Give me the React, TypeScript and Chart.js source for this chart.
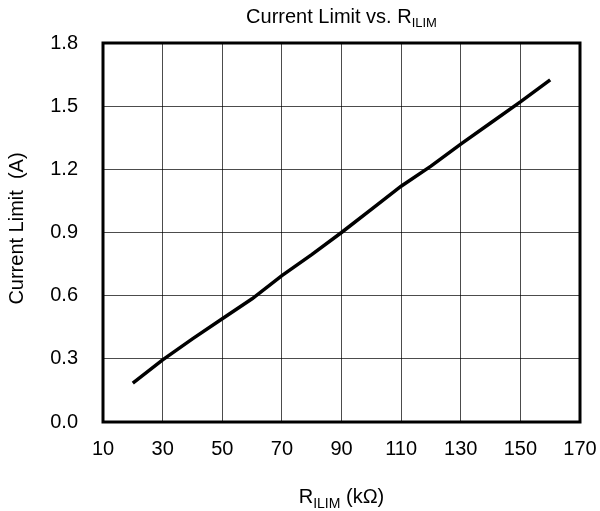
import React, { useEffect, useRef } from "react";
import { Chart, registerables } from "chart.js";

Chart.register(...registerables);

const resistanceK = [20, 30, 40, 50, 60, 70, 80, 90, 100, 110, 120, 130, 140, 150, 160];
const currentLimit = [0.185, 0.295, 0.395, 0.49, 0.585, 0.695, 0.795, 0.9, 1.01, 1.12, 1.215, 1.32, 1.42, 1.52, 1.625];
const xTicks = [10, 30, 50, 70, 90, 110, 130, 150, 170];
const yTicks = [0, 0.3, 0.6, 0.9, 1.2, 1.5, 1.8];

const FONT = "'Liberation Sans', Arial, sans-serif";

function drawSubText(
  ctx: CanvasRenderingContext2D,
  pre: string,
  sub: string,
  post: string,
  cx: number,
  y: number,
  size: number,
  subSize: number,
  subOffset: number
) {
  ctx.font = `${size}px ${FONT}`;
  const wPre = ctx.measureText(pre).width;
  const wPost = ctx.measureText(post).width;
  ctx.font = `${subSize}px ${FONT}`;
  const wSub = ctx.measureText(sub).width;
  let x = cx - (wPre + wSub + wPost) / 2;
  ctx.textAlign = "left";
  ctx.textBaseline = "alphabetic";
  ctx.font = `${size}px ${FONT}`;
  ctx.fillText(pre, x, y);
  x += wPre;
  ctx.font = `${subSize}px ${FONT}`;
  ctx.fillText(sub, x, y + subOffset);
  x += wSub;
  ctx.font = `${size}px ${FONT}`;
  ctx.fillText(post, x, y);
}

const textPlugin = {
  id: "customTexts",
  afterDraw(chart: any) {
    const { ctx, chartArea } = chart;
    const { left, right, top, bottom } = chartArea;
    ctx.save();
    ctx.strokeStyle = "#000";
    ctx.lineWidth = 3;
    ctx.strokeRect(left, top, right - left, bottom - top);
    ctx.fillStyle = "#000";
    // x tick labels, positioned by the x scale
    const xs = chart.scales.x;
    ctx.font = `20px ${FONT}`;
    ctx.textAlign = "center";
    ctx.textBaseline = "alphabetic";
    xTicks.forEach((v) => {
      ctx.fillText(String(v), xs.getPixelForValue(v), 455);
    });
    const cx = (left + right) / 2;
    drawSubText(ctx, "Current Limit vs. R", "ILIM", "", cx, 22.5, 20, 13, 4);
    drawSubText(ctx, "R", "ILIM", " (kΩ)", cx, 503, 20, 14, 5);
    ctx.save();
    ctx.translate(23, (top + bottom) / 2 - 4);
    ctx.rotate(-Math.PI / 2);
    ctx.font = `20px ${FONT}`;
    ctx.textAlign = "center";
    ctx.textBaseline = "alphabetic";
    ctx.fillText("Current Limit  (A)", 0, 0);
    ctx.restore();
    ctx.restore();
  },
};

export default function App() {
  const ref = useRef<HTMLCanvasElement | null>(null);
  useEffect(() => {
    if (!ref.current) return;
    const chart = new Chart(ref.current, {
      type: "line",
      data: {
        datasets: [
          {
            data: resistanceK.map((x, i) => ({ x, y: currentLimit[i] })),
            borderColor: "#000",
            borderWidth: 3.5,
            pointRadius: 0,
            tension: 0,
            fill: false,
          },
        ],
      },
      options: {
        responsive: false,
        animation: false,
        layout: { padding: { top: 43, right: 20, left: 0, bottom: 0 } },
        plugins: {
          legend: { display: false },
          title: { display: false },
          tooltip: { enabled: false },
        },
        scales: {
          x: {
            type: "linear",
            min: 10,
            max: 170,
            afterBuildTicks: (s: any) => {
              s.ticks = xTicks.map((v) => ({ value: v }));
            },
            afterFit: (s: any) => {
              s.height = 89;
            },
            border: { display: false },
            grid: { color: "rgba(0,0,0,0.7)", lineWidth: 1, drawTicks: false },
            ticks: { display: false },
          },
          y: {
            type: "linear",
            min: 0,
            max: 1.8,
            afterBuildTicks: (s: any) => {
              s.ticks = yTicks.map((v) => ({ value: v }));
            },
            afterFit: (s: any) => {
              s.width = 103;
            },
            border: { display: false },
            grid: { color: "rgba(0,0,0,0.7)", lineWidth: 1, drawTicks: false },
            ticks: {
              color: "#000",
              padding: 25,
              font: { family: FONT, size: 20 },
              callback: (v: any) => Number(v).toFixed(1),
            },
          },
        },
      },
      plugins: [textPlugin],
    });
    return () => chart.destroy();
  }, []);
  return (
    <div style={{ position: "absolute", left: 0, top: 0, width: 600, height: 511, background: "#fff" }}>
      <canvas ref={ref} width={600} height={511} style={{ width: 600, height: 511, display: "block" }} />
    </div>
  );
}
